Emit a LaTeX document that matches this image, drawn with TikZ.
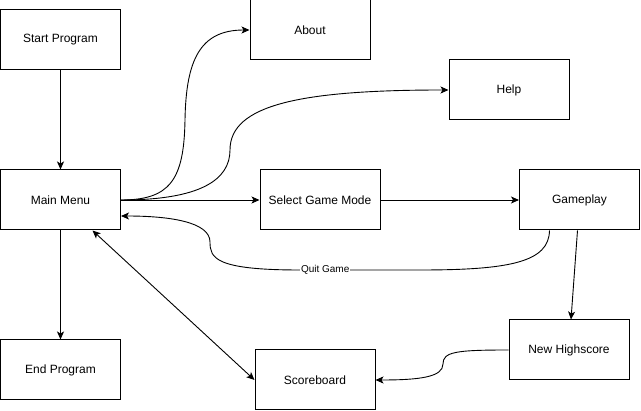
\documentclass[tikz,border=0pt]{standalone}
\usepackage{fontspec}
\setmainfont{Liberation Sans}
\usetikzlibrary{arrows.meta,calc}
\begin{document}
\begin{tikzpicture}[x=1pt,y=-1pt,
  box/.style={draw,line width=1pt,minimum width=120pt,minimum height=60pt,inner sep=0pt,font=\fontsize{12}{14}\selectfont},
  conn/.style={line width=0.9pt,-{Stealth[length=8pt,width=7pt,inset=2pt]}},
  lbl/.style={fill=white,inner sep=1pt,font=\fontsize{10}{12}\selectfont}]
\useasboundingbox (0,0) rectangle (641,411);
\node[box] (start) at (60.5,40) {Start Program};
\node[box] (about) at (310,30) {About};
\node[box] (help) at (509,90) {Help};
\node[box] (mm) at (60.5,200) {Main Menu};
\node[box] (sgm) at (320,200) {Select Game Mode};
\node[box] (gp) at (579.5,200) {Gameplay};
\node[box] (end) at (60.5,370) {End Program};
\node[box] (sb) at (315,380) {Scoreboard};
\node[box] (nh) at (569,350) {New Highscore};

\draw[conn] (start.south) -- (mm.north);
\draw[conn] (mm.south) -- (end.north);
\draw[conn] (mm.east) -- (sgm.west);
\draw[conn] (sgm.east) -- (gp.west);
\draw[conn] (mm.east) .. controls (170,200) and (184,180) .. (185,120) .. controls (186,60) and (200,30) .. (about.west);
\draw[conn] (mm.east) .. controls (200,200) and (230,180) .. (230,150) .. controls (230,105) and (300,90) .. (help.west);
\draw[conn] ($(gp.south)+(-30,0)$) .. controls (549,262) and (510,270) .. (420,270) -- node[lbl,pos=0.79] {Quit Game} (300,270)
  .. controls (215,270) and (210,258) .. (210,242) .. controls (210,222) and (170,216) .. ($(mm.east)+(0,16)$);
\draw[line width=0.9pt,{Stealth[length=8pt,width=7pt,inset=2pt]}-{Stealth[length=8pt,width=7pt,inset=2pt]}] ($(mm.south)+(32,0)$) -- (sb.west);
\draw[conn] ($(gp.south)+(-2,0)$) -- ($(nh.north)+(2,0)$);
\draw[conn] (nh.west) .. controls (455,350) and (443,352) .. (443,364) .. controls (443,377) and (420,380) .. (sb.east);
\end{tikzpicture}
\end{document}
